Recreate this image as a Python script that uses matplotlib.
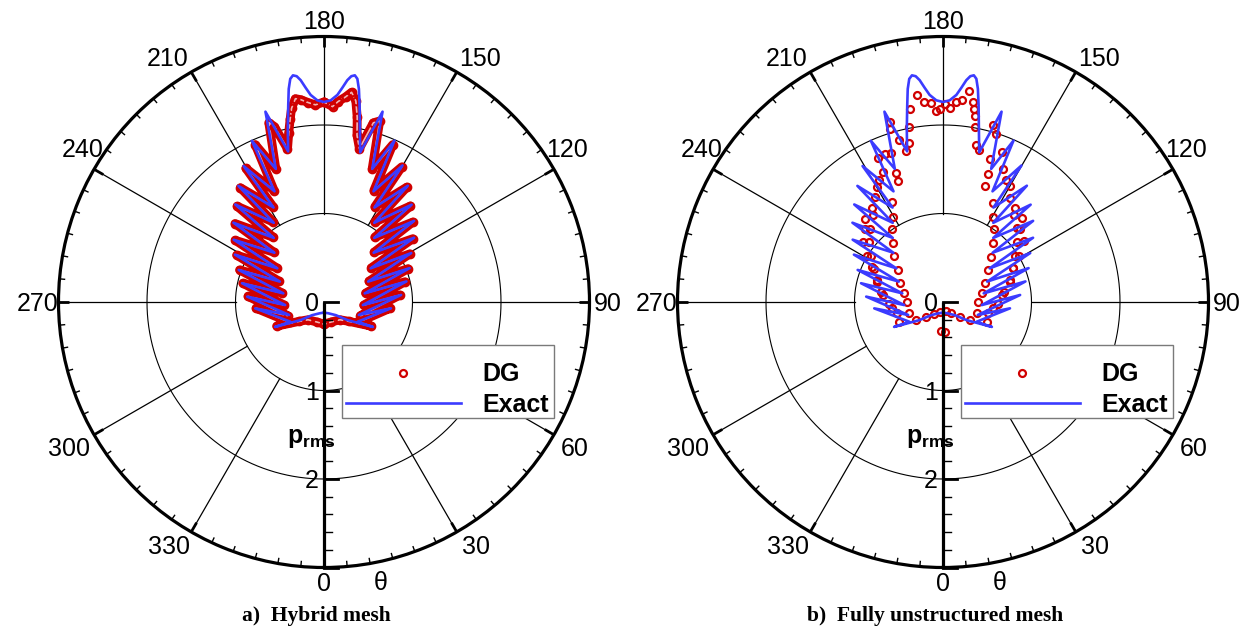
import numpy as np
import matplotlib
matplotlib.use('Agg')
import matplotlib.pyplot as plt
from matplotlib.lines import Line2D
from matplotlib.patches import Rectangle

# ---------------- data (theta in degrees, p_rms) ----------------
# Exact solution, right half (theta from 180 down to 0)
theta_exact_right = [180.0, 178.1, 176.3, 175.1, 174.0, 173.1, 172.25, 171.5, 170.7, 169.75,
                     168.3, 166.4, 162.9, 160.1, 156.4,
                     155.9, 150.1, 151.9, 144.2, 147.6, 138.0, 141.9, 132.0, 134.8, 125.5,
                     125.8, 119.3, 114.8, 111.6, 102.0, 104.0, 85.5, 95.2, 69.6, 84.6,
                     59.5, 63.0, 52.4, 42.0, 20.0, 0.0]
p_exact_right = [2.26, 2.28, 2.345, 2.43, 2.52, 2.57, 2.585, 2.55, 2.44, 2.26,
                 2.00, 1.74, 2.25, 1.60, 1.99,
                 1.37, 1.78, 1.21, 1.62, 1.06, 1.48, 0.92, 1.37, 0.79, 1.25,
                 0.65, 1.13, 0.55, 1.04, 0.47, 0.96, 0.44, 0.875, 0.42, 0.76,
                 0.44, 0.62, 0.335, 0.20, 0.135, 0.12]
# Exact solution, left half (theta from 180 up to 360)
theta_exact_left = [180.0, 181.9, 183.7, 184.9, 186.0, 186.9, 187.8, 188.6, 189.4, 190.3,
                    191.8, 193.4, 197.1, 199.9, 204.1,
                    204.1, 210.6, 208.1, 216.4, 212.4, 222.3, 218.1, 228.8, 225.2, 235.4,
                    234.2, 242.0, 245.2, 249.4, 258.0, 257.1, 274.5, 266.0, 290.4, 275.3,
                    300.5, 297.0, 307.6, 318.0, 340.0, 360.0]
p_exact_left = [2.26, 2.28, 2.345, 2.43, 2.52, 2.57, 2.585, 2.55, 2.44, 2.26,
                2.00, 1.75, 2.25, 1.60, 1.995,
                1.37, 1.785, 1.21, 1.63, 1.06, 1.49, 0.92, 1.36, 0.79, 1.24,
                0.65, 1.14, 0.55, 1.03, 0.47, 0.95, 0.44, 0.87, 0.42, 0.78,
                0.44, 0.62, 0.335, 0.20, 0.135, 0.12]

# DG, hybrid mesh (panel a)
theta_dga_right = [180.0, 177.5, 176.0, 174.0, 172.5, 171.0, 169.8, 168.8, 167.0, 164.6,
                   162.9, 160.1, 156.4, 155.9, 150.1, 151.9, 144.2, 147.6, 138.0, 141.9,
                   132.0, 134.8, 125.5, 125.8, 119.3, 114.8, 111.6, 102.0, 104.0, 85.5,
                   95.2, 69.6, 84.6, 59.5, 63.0, 52.4, 42.0, 20.0, 0.0]
p_dga_right = [2.26, 2.21, 2.27, 2.33, 2.39, 2.30, 2.12, 1.92, 1.78, 2.10,
               2.14, 1.60, 1.94, 1.38, 1.76, 1.22, 1.60, 1.07, 1.46, 0.93,
               1.35, 0.80, 1.23, 0.66, 1.11, 0.56, 1.02, 0.48, 0.94, 0.45,
               0.86, 0.44, 0.75, 0.45, 0.60, 0.36, 0.27, 0.24, 0.25]
theta_dga_left = [180.0, 182.5, 184.5, 186.5, 188.0, 189.5, 190.5, 191.8, 193.4, 195.8,
                  197.1, 199.9, 203.6, 204.1, 210.3, 208.1, 216.2, 212.4, 222.2, 218.1,
                  228.6, 225.2, 235.2, 234.2, 241.8, 245.2, 249.2, 258.0, 257.0, 274.5,
                  265.8, 290.4, 275.3, 300.5, 297.0, 307.6, 318.0, 340.0, 360.0]
p_dga_left = [2.26, 2.23, 2.26, 2.30, 2.32, 2.22, 2.10, 1.95, 1.78, 2.06,
              2.12, 1.60, 1.94, 1.38, 1.75, 1.22, 1.60, 1.07, 1.46, 0.93,
              1.34, 0.80, 1.22, 0.66, 1.12, 0.56, 1.02, 0.48, 0.94, 0.45,
              0.86, 0.44, 0.77, 0.45, 0.60, 0.36, 0.27, 0.24, 0.25]

# DG, fully unstructured mesh (panel b)
theta_dgb_right = [179.5, 177.8, 176.2, 174.5, 172.9, 171.6, 170.9, 170.2, 169.7, 168.2,
                   166.6, 164.1, 162.5, 161.8, 155.8, 160.5, 160.1, 150.0, 153.1, 142.6,
                   149.6, 136.9, 145.2, 133.2, 139.6, 127.0, 133.2, 121.2, 125.4, 115.7,
                   114.1, 107.0, 102.7, 96.8, 90.5, 82.8, 71.2, 65.6, 56.0, 48.7,
                   36.3, 15.4, 4.0,
                   158.5, 152.5, 147.0, 141.0, 135.0, 129.0, 122.5, 116.0, 108.5, 99.0,
                   88.0, 76.0]
p_dgb_right = [2.24, 2.19, 2.27, 2.29, 2.40, 2.29, 2.21, 2.13, 2.01, 1.81,
               1.77, 2.08, 1.99, 1.70, 1.65, 1.53, 1.39, 1.51, 1.26, 1.34,
               1.12, 1.30, 1.00, 1.20, 0.88, 1.14, 0.75, 1.00, 0.63, 0.88,
               0.52, 0.79, 0.45, 0.67, 0.40, 0.57, 0.40, 0.54, 0.37, 0.25,
               0.16, 0.11, 0.34,
               1.82, 1.55, 1.40, 1.27, 1.18, 1.07, 0.97, 0.88, 0.80, 0.70,
               0.62, 0.52]
theta_dgb_left = [180.8, 182.0, 183.4, 185.3, 187.2, 189.8, 190.9, 192.1, 193.7, 196.4,
                  197.1, 195.0, 199.3, 204.3, 204.9, 199.9, 200.5, 210.0, 206.9, 217.4,
                  210.4, 223.1, 214.8, 226.8, 220.4, 233.0, 226.8, 238.8, 234.6, 244.3,
                  245.9, 253.0, 257.3, 263.2, 269.5, 277.2, 288.8, 294.4, 304.0, 311.3,
                  323.7, 344.6, 356.0,
                  201.5, 207.5, 213.0, 219.0, 225.0, 231.0, 237.5, 244.0, 251.5, 261.0,
                  272.0, 284.0]
p_dgb_left = [2.18, 2.16, 2.25, 2.27, 2.36, 2.21, 2.01, 1.84, 1.76, 2.12,
              2.04, 1.90, 1.78, 1.79, 1.62, 1.55, 1.46, 1.50, 1.27, 1.33,
              1.12, 1.29, 1.01, 1.21, 0.87, 1.13, 0.76, 1.01, 0.63, 0.87,
              0.53, 0.78, 0.45, 0.68, 0.41, 0.58, 0.40, 0.55, 0.37, 0.26,
              0.17, 0.12, 0.33,
              1.80, 1.56, 1.41, 1.26, 1.17, 1.08, 0.96, 0.89, 0.79, 0.71,
              0.61, 0.53]

angle_ticks = [0, 30, 60, 90, 120, 150, 180, 210, 240, 270, 300, 330]
angle_labels = ['0', '30', '60', '90', '120', '150', '180', '210', '240', '270', '300', '330']
radial_ticks = [0, 1, 2]
radial_labels = ['0', '1', '2']
legend_labels = ['DG', 'Exact']
captions = ['a)  Hybrid mesh', 'b)  Fully unstructured mesh']

# ---------------- style / layout ----------------
plt.rcParams['mathtext.fontset'] = 'custom'
plt.rcParams['mathtext.bf'] = 'Liberation Sans:bold'
plt.rcParams['mathtext.rm'] = 'Liberation Sans'
SANS = ['Liberation Sans', 'DejaVu Sans']
SERIF = ['Liberation Serif', 'DejaVu Serif']
BLUE = '#3b3bff'
RED = '#d00000'

W, H = 1248, 629
RPX = 265.5
RMAX = 3.0
S = RPX / RMAX

fig = plt.figure(figsize=(12.48, 6.29), dpi=100)


def fpt(px, py):
    return (px / W, 1 - py / H)


# offsets (pixels) of angular labels relative to the pole
label_offsets = {0: (0, 280), 30: (152, 243), 60: (251, 145), 90: (284, 0),
                 120: (243, -154), 150: (156, -245), 180: (0, -282),
                 210: (-156, -245), 240: (-241, -154), 270: (-286, 0),
                 300: (-255, 145), 330: (-155, 243)}


def panel(cx, cy, dg_sets, dense, caption):
    ax = fig.add_axes([(cx - RPX) / W, 1 - (cy + RPX) / H, 2 * RPX / W, 2 * RPX / H],
                      projection='polar')
    ax.set_theta_zero_location('S')
    ax.set_theta_direction(1)
    ax.set_ylim(0, RMAX)
    ax.set_xticks([])
    ax.set_yticks([])
    ax.grid(False)
    ax.spines['polar'].set_linewidth(2.3)
    ax.spines['polar'].set_zorder(6)

    full = np.deg2rad(np.linspace(0, 360, 721))
    for rr in [1, 2]:
        ax.plot(full, np.full_like(full, rr), color='black', lw=0.8, zorder=1)
    for a in angle_ticks:
        if a == 0:
            continue
        t = np.deg2rad(a)
        ax.plot([t, t], [1, RMAX], color='black', lw=0.9, zorder=1)
    for a in range(0, 360, 5):
        t = np.deg2rad(a)
        if a % 30 == 0:
            ax.plot([t, t], [RMAX, RMAX - 0.12], color='black', lw=2.0, zorder=6,
                    solid_capstyle='butt')
        else:
            ax.plot([t, t], [RMAX, RMAX - 0.065], color='black', lw=1.0, zorder=6,
                    solid_capstyle='butt')
    # radial axis
    ax.plot([0, 0], [0, RMAX], color='black', lw=2.3, zorder=6, solid_capstyle='butt')

    # exact curve
    th_ex = np.deg2rad(list(reversed(theta_exact_right)) + theta_exact_left)
    r_ex = list(reversed(p_exact_right)) + p_exact_left

    for seg_t, seg_r in dg_sets:
        tt = np.deg2rad(seg_t)
        if dense:
            ax.plot(tt, seg_r, color=RED, lw=6.4, solid_joinstyle='round',
                    solid_capstyle='round', zorder=3)
            ax.plot(tt, seg_r, color='white', lw=1.2, solid_joinstyle='round',
                    zorder=3.1, alpha=0.7)
            ax.plot(tt, seg_r, 'o', mfc='none', mec=RED, ms=5.5, mew=1.5, zorder=3.2)
        else:
            ax.plot(tt, seg_r, 'o', mfc='none', mec=RED, ms=5, mew=1.6, ls='none',
                    zorder=3)
    ax.plot(th_ex, r_ex, color=BLUE, lw=1.9, zorder=4, solid_joinstyle='round')

    # radial ticks on the axis (drawn to the right of the axis)
    for k in np.arange(0, 3.001, 0.2):
        y = cy + k * S
        major = abs(k - round(k)) < 1e-6
        L = 14 if major else 8
        fig.add_artist(Line2D([fpt(cx, y)[0], fpt(cx + L, y)[0]], [fpt(cx, y)[1]] * 2,
                              transform=fig.transFigure, color='black',
                              lw=2.0 if major else 1.0, zorder=7))
    for k, lab in zip(radial_ticks, radial_labels):
        x, y = fpt(cx - 5, cy + k * S + 9)
        fig.text(x, y, lab, ha='right', va='baseline', fontsize=18, family=SANS, zorder=8)

    for a, lab in zip(angle_ticks, angle_labels):
        dx, dy = label_offsets[a]
        x, y = fpt(cx + dx, cy + dy + 9)
        fig.text(x, y, lab, ha='center', va='baseline', fontsize=18, family=SANS)

    x, y = fpt(cx - 37, cy + 141)
    fig.text(x, y, r'$\mathbf{p}_{\mathbf{rms}}$', ha='left', va='baseline', fontsize=18)
    x, y = fpt(cx + 57, cy + 288)
    fig.text(x, y, '\u03b8', ha='center', va='baseline', fontsize=18, family=SANS)

    # legend
    x0, y0 = fpt(cx + 18, cy + 116)
    fig.add_artist(Rectangle((x0, y0), 212 / W, 73 / H, transform=fig.transFigure,
                             facecolor='white', edgecolor='#7a7a7a', lw=1.0, zorder=9))
    mx, my = fpt(cx + 79, cy + 71)
    fig.add_artist(Line2D([mx], [my], transform=fig.transFigure, marker='o', mfc='none',
                          mec=RED, ms=5, mew=1.6, ls='none', zorder=10))
    lx0, ly = fpt(cx + 22, cy + 101)
    lx1, _ = fpt(cx + 137, cy + 101)
    fig.add_artist(Line2D([lx0, lx1], [ly, ly], transform=fig.transFigure, color=BLUE,
                          lw=1.9, zorder=10))
    tx, ty = fpt(cx + 158, cy + 79)
    fig.text(tx, ty, legend_labels[0], ha='left', va='baseline', fontsize=18,
             fontweight='bold', family=SANS, zorder=11)
    tx, ty = fpt(cx + 158, cy + 110)
    fig.text(tx, ty, legend_labels[1], ha='left', va='baseline', fontsize=18,
             fontweight='bold', family=SANS, zorder=11)

    x, y = fpt(cx - 8, 621)
    fig.text(x, y, caption, ha='center', va='baseline', fontsize=15.5,
             fontweight='bold', family=SERIF)
    return ax


panel(324, 302, [(theta_dga_right, p_dga_right), (theta_dga_left, p_dga_left)],
      True, captions[0])
panel(943, 302, [(theta_dgb_right, p_dgb_right), (theta_dgb_left, p_dgb_left)],
      False, captions[1])

fig.savefig('out.png', dpi=100)
